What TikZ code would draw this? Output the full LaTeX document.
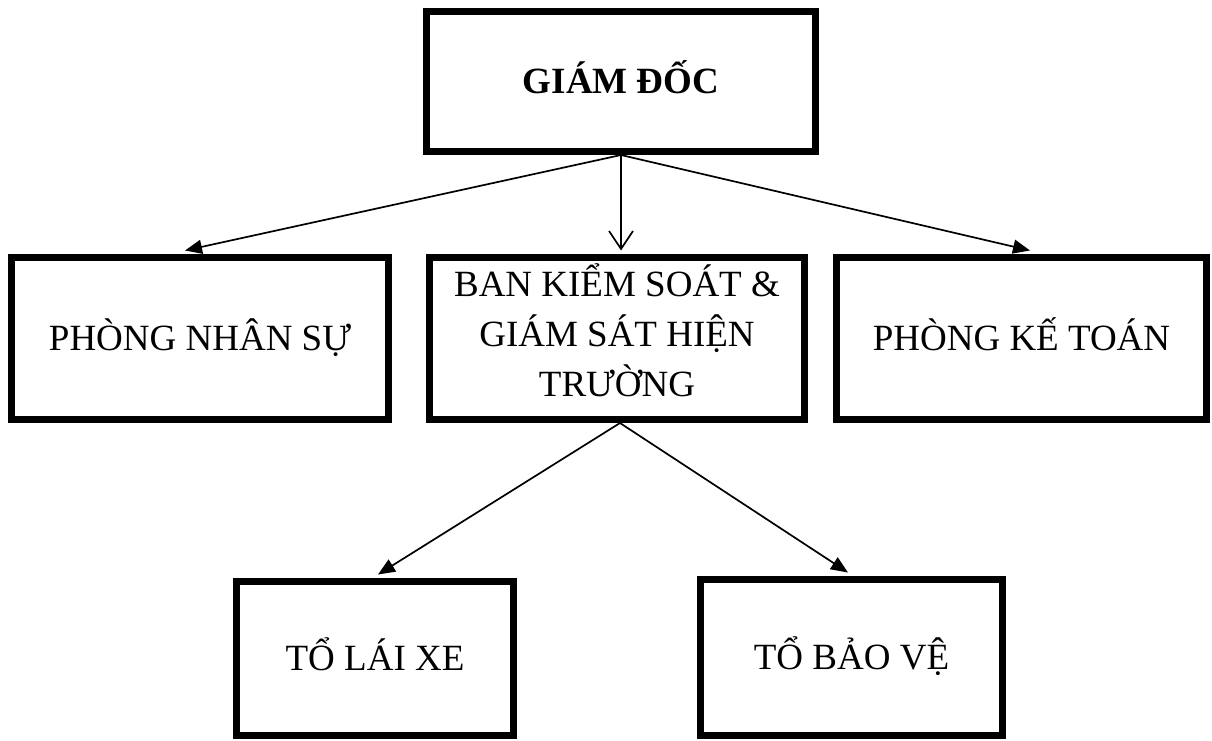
\documentclass[tikz,border=0pt]{standalone}
\usepackage{fontspec}
\setmainfont{Liberation Serif}
\usetikzlibrary{arrows.meta}

\tikzset{
  unit/.style={draw=black, line width=7pt, inner sep=0pt, align=center,
    font=\fontsize{37}{50}\selectfont},
  oneline/.style={text height=24pt, text depth=0pt},
  link/.style={line width=1.7pt, -{Triangle[length=17pt,width=14pt]}},
  openlink/.style={line width=1.7pt, -{Straight Barb[length=18pt,width=24pt,line width=1.7pt]}}
}

\begin{document}
\begin{tikzpicture}[x=1pt, y=-1pt]
  \useasboundingbox (0,0) rectangle (1212,740);

  % director
  \node[unit, oneline, minimum width=389pt, minimum height=140pt] (top)
    at (621,81.5) {\bfseries GIÁM ĐỐC};

  % second level
  \node[unit, oneline, minimum width=377pt, minimum height=162pt] (pns)
    at (200,338.5) {PHÒNG NHÂN SỰ};
  \node[unit, text height=116pt, text depth=0pt,
        minimum width=375pt, minimum height=162pt] (mid)
    at (617,338.5) {BAN KIỂM SOÁT \&\\GIÁM SÁT HIỆN\\TRƯỜNG};
  \node[unit, oneline, minimum width=370pt, minimum height=162pt] (pkt)
    at (1021.5,338.5) {PHÒNG KẾ TOÁN};

  % third level
  \node[unit, oneline, minimum width=277pt, minimum height=154pt] (tlx)
    at (375,658.5) {TỔ LÁI XE};
  \node[unit, oneline, minimum width=302pt, minimum height=156pt] (tbv)
    at (851.5,657.5) {TỔ BẢO VỆ};

  % connectors from the director
  \draw[link] (top.south) -- ([xshift=-15pt,yshift=3.5pt]pns.north);
  \draw[openlink] (top.south) -- ([xshift=4pt,yshift=3.5pt]mid.north);
  \draw[link] (top.south) -- ([xshift=8.5pt,yshift=3.5pt]pkt.north);

  % connectors from the supervision board
  \draw[link] ([xshift=3pt]mid.south) -- ([xshift=3pt,yshift=3.5pt]tlx.north);
  \draw[link] ([xshift=3pt]mid.south) -- ([xshift=-3.5pt,yshift=3.5pt]tbv.north);
\end{tikzpicture}
\end{document}
